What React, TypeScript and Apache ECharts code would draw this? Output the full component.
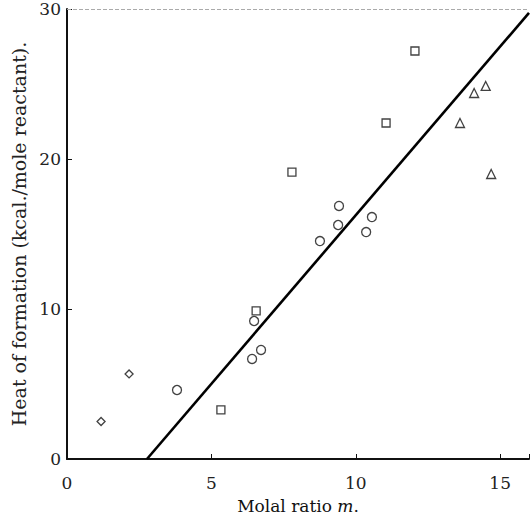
import React, { useEffect, useRef } from "react";
import * as echarts from "echarts";

const xTicks = [0, 5, 10, 15];
const yTicks = [0, 10, 20, 30];
const diamondPts: number[][] = [[1.18, 2.5], [2.15, 5.67]];
const circlePts: number[][] = [
  [3.81, 4.6], [6.48, 9.2], [6.41, 6.67], [6.72, 7.27], [8.76, 14.53],
  [9.39, 15.6], [9.42, 16.87], [10.36, 15.13], [10.56, 16.13],
];
const squarePts: number[][] = [
  [5.33, 3.27], [6.55, 9.87], [7.79, 19.13], [11.05, 22.4], [12.05, 27.2],
];
const trianglePts: number[][] = [
  [13.61, 22.4], [14.1, 24.4], [14.5, 24.87], [14.69, 19.0],
];
const fitLine: number[][] = [[2.77, 0], [16, 29.74]];

const FONT = "DejaVu Serif";

export default function App() {
  const ref = useRef<HTMLDivElement>(null);
  useEffect(() => {
    if (!ref.current) return;
    const chart = echarts.init(ref.current, null, { renderer: "svg" });
    const markerStyle = { color: "#fff", borderColor: "#111", borderWidth: 1.3 };
    chart.setOption({
      animation: false,
      backgroundColor: "#fff",
      grid: { left: 67, right: 2, top: 9, bottom: 61, containLabel: false, outerBoundsMode: "none" },
      xAxis: {
        type: "value",
        min: 0,
        max: 16,
        interval: 5,
        name: "Molal ratio {i|m}.",
        nameLocation: "middle",
        nameGap: 38,
        nameTextStyle: {
          fontFamily: FONT,
          fontSize: 17,
          color: "#111",
          rich: { i: { fontFamily: FONT, fontStyle: "italic", fontSize: 17, color: "#111" } },
        },
        axisLine: { show: true, lineStyle: { color: "#111", width: 2 } },
        axisTick: { show: true, inside: true, length: 5, lineStyle: { color: "#111" } },
        axisLabel: {
          fontFamily: FONT,
          fontSize: 17,
          color: "#222",
          margin: 15,
          formatter: (v: number) => (xTicks.includes(v) ? String(v) : ""),
        },
        splitLine: { show: false },
      },
      yAxis: {
        type: "value",
        min: 0,
        max: 30,
        interval: 10,
        name: "Heat of formation (kcal./mole reactant).",
        nameLocation: "middle",
        nameGap: 39,
        nameTextStyle: { fontFamily: FONT, fontSize: 19, color: "#222" },
        axisLine: { show: true, lineStyle: { color: "#111", width: 2 } },
        axisTick: { show: true, inside: true, length: 5, lineStyle: { color: "#111" } },
        axisLabel: {
          fontFamily: FONT,
          fontSize: 17,
          color: "#222",
          margin: 6,
          formatter: (v: number) => (yTicks.includes(v) ? String(v) : ""),
        },
        splitLine: { show: false },
      },
      series: [
        {
          type: "line",
          data: fitLine,
          symbol: "none",
          lineStyle: { color: "#000", width: 2.6 },
          z: 1,
          markLine: {
            silent: true,
            symbol: "none",
            label: { show: false },
            lineStyle: { color: "#aaa", width: 1, type: "dashed" },
            data: [{ yAxis: 30 }],
          },
        },
        { type: "scatter", data: diamondPts, symbol: "diamond", symbolSize: 8, itemStyle: markerStyle, z: 3 },
        { type: "scatter", data: circlePts, symbol: "circle", symbolSize: 9, itemStyle: markerStyle, z: 3 },
        { type: "scatter", data: squarePts, symbol: "rect", symbolSize: 8, itemStyle: markerStyle, z: 3 },
        { type: "scatter", data: trianglePts, symbol: "triangle", symbolSize: 9, itemStyle: markerStyle, z: 3 },
      ],
    });
    return () => chart.dispose();
  }, []);
  return <div ref={ref} style={{ width: 531, height: 520, position: "absolute", left: 0, top: 0 }} />;
}
